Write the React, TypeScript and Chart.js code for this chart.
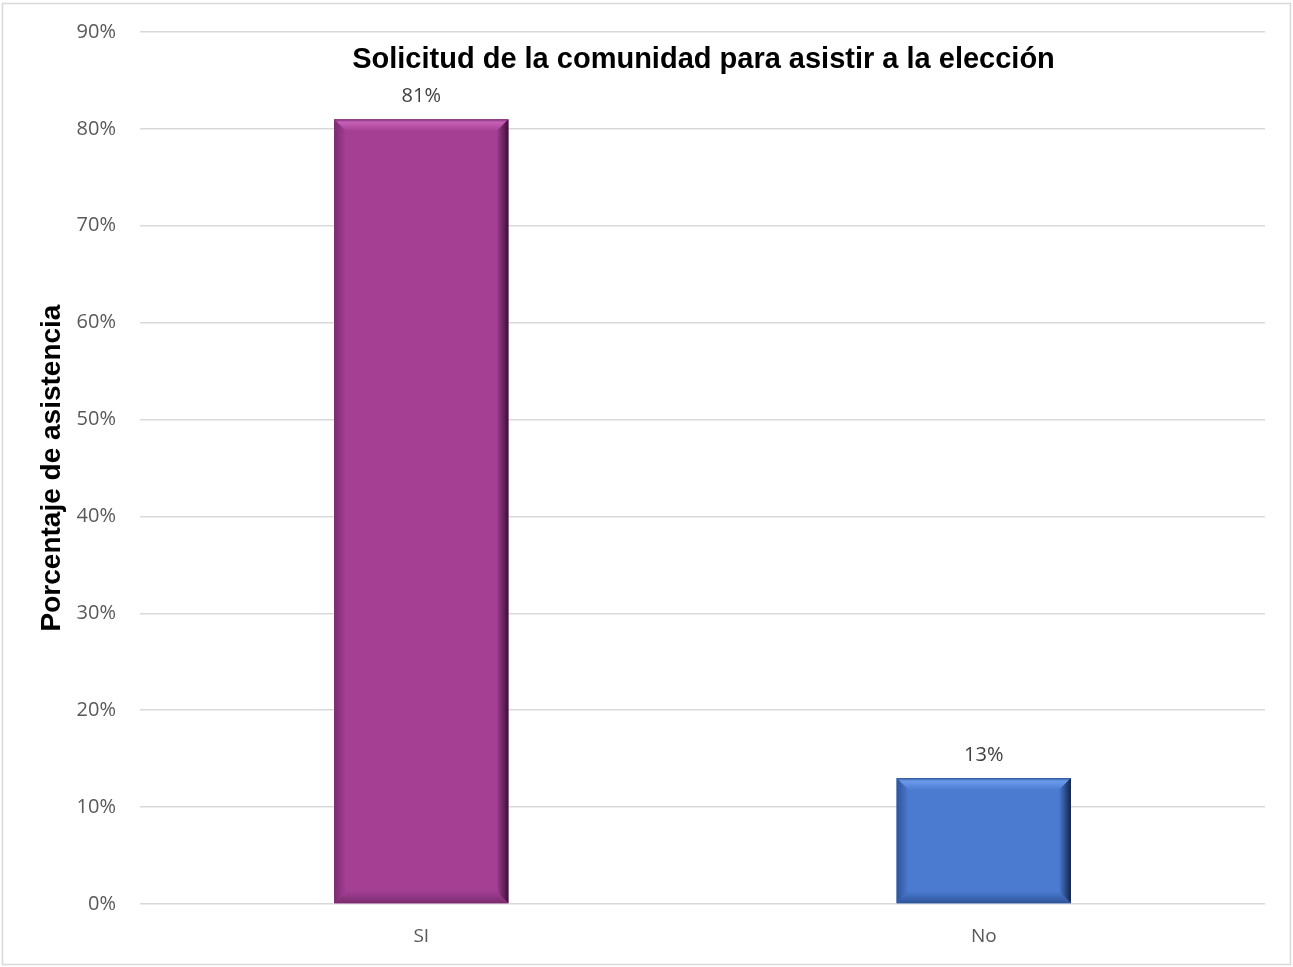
import React, { useEffect, useRef } from "react";
import { Chart, registerables } from "chart.js";

Chart.register(...registerables);

const categories = ["SI", "No"];
const values = [81, 13];
const barColors = ["#A43F94", "#4A7BD1"];
const bevelLight = ["#C761B8", "#6C9BEA"];
const bevelDark = ["#3A0F34", "#12244A"];
const bevelMid = ["#7A2C6E", "#2F5498"];
const yTicks = [0, 10, 20, 30, 40, 50, 60, 70, 80, 90];
const chartTitle = "Solicitud de la comunidad para asistir a la elección";
const yTitle = "Porcentaje de asistencia";

const framePlugin = {
  id: "frame",
  beforeDraw(chart: any) {
    const { ctx, width, height } = chart;
    ctx.save();
    ctx.fillStyle = "#ffffff";
    ctx.fillRect(0, 0, width, height);
    ctx.strokeStyle = "#D9D9D9";
    ctx.lineWidth = 1.5;
    ctx.strokeRect(2.5, 3.5, width - 5, height - 6);
    ctx.restore();
  },
};

const titlePlugin = {
  id: "innerTitle",
  afterDraw(chart: any) {
    const { ctx, chartArea } = chart;
    ctx.save();
    ctx.font = "bold 29px 'Liberation Sans', Arial, sans-serif";
    ctx.fillStyle = "#000000";
    ctx.textAlign = "center";
    ctx.textBaseline = "middle";
    ctx.fillText(chartTitle, (chartArea.left + chartArea.right) / 2 + 1, chartArea.top + 28);
    ctx.restore();
  },
};

const bevelPlugin = {
  id: "bevel",
  afterDatasetsDraw(chart: any) {
    const { ctx } = chart;
    const meta = chart.getDatasetMeta(0);
    meta.data.forEach((bar: any, i: number) => {
      const { x, y, base, width } = bar.getProps(["x", "y", "base", "width"], true);
      const l = x - width / 2;
      const r = x + width / 2;
      const t = Math.min(y, base);
      const b = Math.max(y, base);
      const s = 12;
      ctx.save();
      let g = ctx.createLinearGradient(0, t, 0, t + s);
      g.addColorStop(0, bevelMid[i]);
      g.addColorStop(0.25, bevelLight[i]);
      g.addColorStop(1, barColors[i]);
      ctx.fillStyle = g;
      ctx.beginPath();
      ctx.moveTo(l, t);
      ctx.lineTo(r, t);
      ctx.lineTo(r - s, t + s);
      ctx.lineTo(l + s, t + s);
      ctx.closePath();
      ctx.fill();
      g = ctx.createLinearGradient(0, b - s, 0, b);
      g.addColorStop(0, barColors[i]);
      g.addColorStop(1, bevelMid[i]);
      ctx.fillStyle = g;
      ctx.beginPath();
      ctx.moveTo(l, b);
      ctx.lineTo(r, b);
      ctx.lineTo(r - s, b - s);
      ctx.lineTo(l + s, b - s);
      ctx.closePath();
      ctx.fill();
      g = ctx.createLinearGradient(l, 0, l + s, 0);
      g.addColorStop(0, bevelMid[i]);
      g.addColorStop(1, barColors[i]);
      ctx.fillStyle = g;
      ctx.beginPath();
      ctx.moveTo(l, t);
      ctx.lineTo(l + s, t + s);
      ctx.lineTo(l + s, b - s);
      ctx.lineTo(l, b);
      ctx.closePath();
      ctx.fill();
      g = ctx.createLinearGradient(r - s, 0, r, 0);
      g.addColorStop(0, barColors[i]);
      g.addColorStop(1, bevelDark[i]);
      ctx.fillStyle = g;
      ctx.beginPath();
      ctx.moveTo(r, t);
      ctx.lineTo(r - s, t + s);
      ctx.lineTo(r - s, b - s);
      ctx.lineTo(r, b);
      ctx.closePath();
      ctx.fill();
      ctx.font = "20px 'Open Sans', sans-serif";
      ctx.fillStyle = "#404040";
      ctx.textAlign = "center";
      ctx.textBaseline = "middle";
      ctx.fillText(values[i] + "%", x, t - 23);
      ctx.restore();
    });
  },
};

export default function App() {
  const ref = useRef<HTMLCanvasElement | null>(null);
  useEffect(() => {
    if (!ref.current) return;
    const chart = new Chart(ref.current, {
      type: "bar",
      data: {
        labels: categories,
        datasets: [
          {
            data: values,
            backgroundColor: barColors,
            borderWidth: 0,
            categoryPercentage: 1,
            barPercentage: 0.31,
          },
        ],
      },
      options: {
        animation: false,
        responsive: false,
        maintainAspectRatio: false,
        layout: { padding: { top: 32, right: 28, bottom: 0, left: 0 } },
        plugins: {
          legend: { display: false },
          title: { display: false },
          tooltip: { enabled: false },
        },
        scales: {
          x: {
            grid: { display: false, drawTicks: false },
            border: { display: false },
            ticks: {
              color: "#595959",
              font: { family: "'Open Sans', sans-serif", size: 19 },
              padding: 21,
            },
            afterFit(scale: any) {
              scale.height = 63;
              scale.paddingLeft = 0;
              scale.paddingRight = 0;
            },
          },
          y: {
            min: 0,
            max: 90,
            afterBuildTicks(scale: any) {
              scale.ticks = yTicks.map((v) => ({ value: v }));
            },
            grid: { color: "#D9D9D9", lineWidth: 1.5, drawTicks: false },
            border: { display: false },
            ticks: {
              color: "#595959",
              font: { family: "'Open Sans', sans-serif", size: 20 },
              padding: 24,
              callback: (v: any) => v + "%",
            },
            title: {
              display: true,
              text: yTitle,
              color: "#000000",
              font: { family: "'Liberation Sans', Arial, sans-serif", size: 28, weight: "bold" },
              padding: { top: 35, bottom: 0 },
            },
            afterFit(scale: any) {
              scale.width = 140;
              scale.paddingTop = 0;
              scale.paddingBottom = 0;
            },
          },
        },
      },
      plugins: [framePlugin, bevelPlugin, titlePlugin],
    });
    return () => chart.destroy();
  }, []);
  return (
    <div style={{ position: "fixed", left: 0, top: 0, width: 1293, height: 967 }}>
      <canvas ref={ref} width={1293} height={967} style={{ width: 1293, height: 967, display: "block" }} />
    </div>
  );
}
